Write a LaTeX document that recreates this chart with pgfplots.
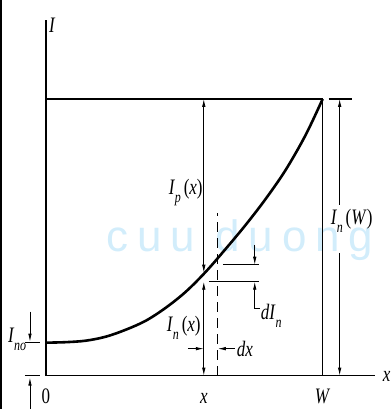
\documentclass[border=0pt]{standalone}
\usepackage{pgfplots}
\pgfplotsset{compat=1.18}
\usepackage{fontspec}
\setmainfont{Liberation Serif}
\newfontfamily\wmfont[LetterSpace=20]{Liberation Sans}
\usetikzlibrary{arrows.meta}
\newcommand{\tl}[1]{\scalebox{1}[1.3]{\fontsize{17}{17}\selectfont #1}}
\newcommand{\Is}[1]{\textit{I}\kern-0.3pt\raisebox{-0.75ex}{\fontsize{12}{12}\selectfont\textit{#1}}}
\definecolor{wm}{RGB}{210,237,251}
\begin{document}
\begin{tikzpicture}[>={Latex[length=8pt,width=3.5pt]}]
\begin{axis}[width=329pt,height=356pt,scale only axis,
  xmin=0,xmax=329,ymin=0,ymax=356,
  axis lines=left, axis line style={-,line width=1.3pt},
  xtick={0,158,277}, xticklabels={\tl{0},\tl{\textit{x}},\tl{\textit{W}}},
  ytick=\empty, major tick length=0pt, clip=false,
  xticklabel style={anchor=base, yshift=-28pt, inner sep=0pt}]
\path (axis cs:-46,-33) rectangle (axis cs:345,376);
\node[anchor=base, text=wm, inner sep=0pt] at (axis cs:194,124) {\fontsize{44}{44}\wmfont cuu duong};
\fill[black] (axis cs:-46,-33) rectangle (axis cs:-43.5,376);
% top level lines
\draw[line width=2pt] (axis cs:0,277) -- (axis cs:277,277);
\draw[line width=2pt] (axis cs:283,277) -- (axis cs:306,277);
\draw[line width=1pt] (axis cs:277,0) -- (axis cs:277,277);
% current curve
\addplot[black, line width=2.6pt, smooth, tension=0.55] coordinates {
 (0,33) (20,33.5) (40,35) (60,39) (80,46) (100,55) (120,68) (140,84)
 (160,104) (180,127) (200,151) (220,177) (240,206) (260,241) (277,277)};
% I_n(W)
\draw[->, line width=0.8pt] (axis cs:294,171) -- (axis cs:294,277);
\draw[->, line width=0.8pt] (axis cs:294,123) -- (axis cs:294,0);
\node[anchor=base west, inner sep=0pt] at (axis cs:285,151) {\tl{\Is{n}\,(\textit{W})}};
% I_p(x)
\draw[<->, line width=0.8pt] (axis cs:158,277) -- (axis cs:158,103);
\node[anchor=base east, inner sep=0pt] at (axis cs:157,181) {\tl{\Is{p}\,(\textit{x})}};
% I_n(x)
\draw[<->, line width=0.8pt] (axis cs:158,94) -- (axis cs:158,0);
\node[anchor=base east, inner sep=0pt] at (axis cs:155,44) {\tl{\Is{n}\,(\textit{x})}};
% dashed
\draw[line width=0.8pt, dash pattern=on 10pt off 6pt] (axis cs:172,0) -- (axis cs:172,163);
% dI_n
\draw[line width=1pt] (axis cs:177,111) -- (axis cs:213,111);
\draw[line width=1pt] (axis cs:163,94) -- (axis cs:213,94);
\draw[->, line width=0.8pt] (axis cs:209,131) -- (axis cs:209,111);
\draw[->, line width=0.8pt] (axis cs:214,67) -- (axis cs:209,67) -- (axis cs:209,94);
\node[anchor=base west, inner sep=0pt] at (axis cs:215,56) {\tl{\textit{d}\Is{n}}};
% dx
\draw[->, line width=0.8pt] (axis cs:142,27) -- (axis cs:158,27);
\draw[->, line width=0.8pt] (axis cs:189,27) -- (axis cs:172,27);
\node[anchor=base west, inner sep=0pt] at (axis cs:191,19) {\tl{\textit{dx}}};
% I_no
\draw[line width=1.2pt] (axis cs:-21,33) -- (axis cs:-6,33);
\draw[line width=1.2pt] (axis cs:-21,0) -- (axis cs:-6,0);
\draw[->, line width=0.8pt] (axis cs:-16,64) -- (axis cs:-16,34);
\draw[->, line width=0.8pt] (axis cs:-16,-33) -- (axis cs:-16,-2);
\node[anchor=base west, inner sep=0pt] at (axis cs:-38,33) {\tl{\Is{no}}};
% axis labels
\node[anchor=base west, inner sep=0pt] at (axis cs:3,343) {\tl{\textit{I}}};
\node[anchor=base west, inner sep=0pt] at (axis cs:337,-6) {\tl{\textit{x}}};
\end{axis}
\end{tikzpicture}
\end{document}
